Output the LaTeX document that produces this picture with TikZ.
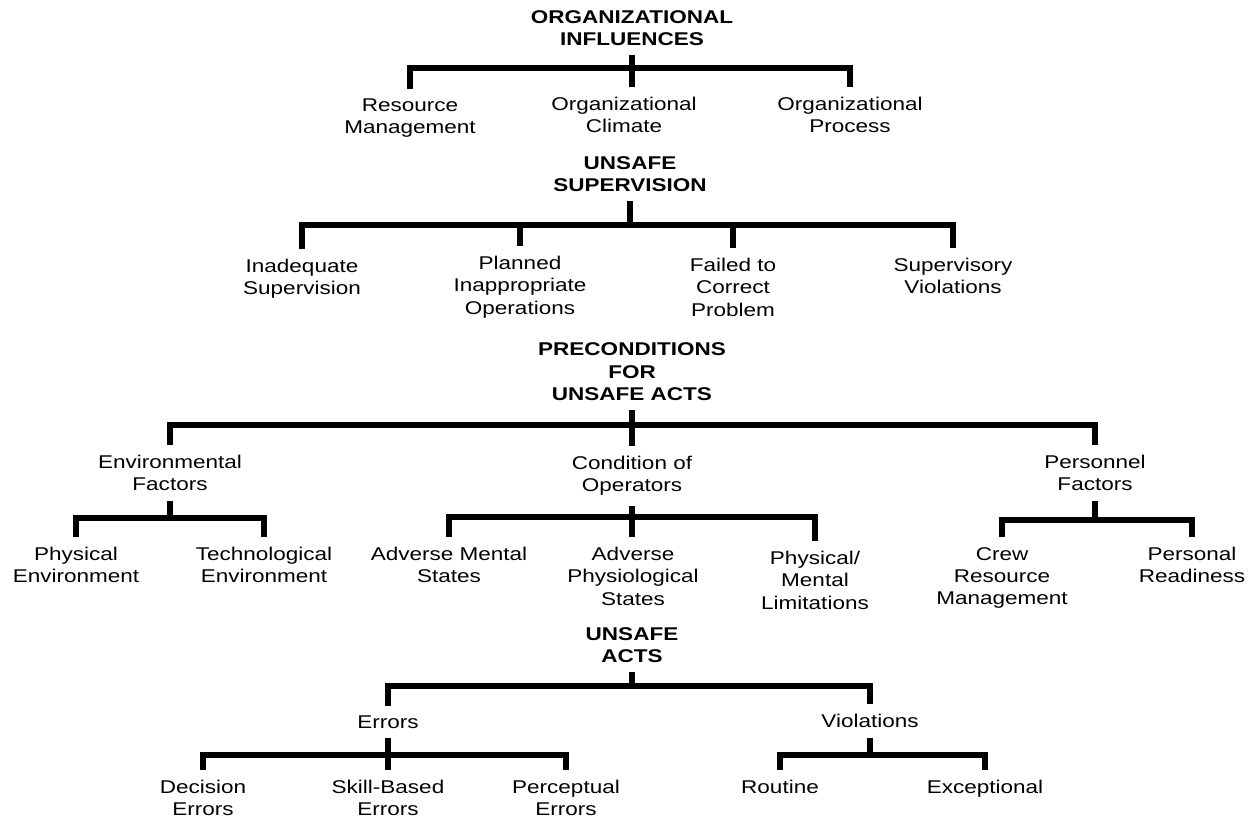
\documentclass[tikz,border=0pt]{standalone}
\usepackage{fontspec}
\setmainfont{Liberation Sans}[FakeStretch=1.22]
\usetikzlibrary{positioning}
\tikzset{
  head/.style={font=\fontsize{10.5}{12.75}\selectfont\bfseries, align=center, inner sep=5pt},
  item/.style={font=\fontsize{10.5}{12.75}\selectfont, align=center, inner sep=5.5pt},
  link/.style={line width=3.2pt, line join=miter, line cap=butt}
}

\begin{document}
\begin{tikzpicture}[x=0.02cm, y=-0.02cm]
    \useasboundingbox (0,0) rectangle (1250,818);

    % organizational influences
    \node[head] (oi) at (632,28) {ORGANIZATIONAL\\INFLUENCES};
    \node[item] (rm) at (410,118) {Resource\\Management};
    \node[item] (oc) at (624,115) {Organizational\\Climate};
    \node[item] (op) at (850,115) {Organizational\\Process};
    \coordinate (b1) at (632,68);
    \draw[link] (oi.south) -- (b1) -- (b1 |- oc.north);
    \draw[link] (rm.north) -- (rm.north |- b1) -- (op.north |- b1) -- (op.north);

    % unsafe supervision
    \node[head] (us) at (630,174) {UNSAFE\\SUPERVISION};
    \node[item] (is) at (302,279) {Inadequate\\Supervision};
    \node[item] (pio) at (520,287) {Planned\\Inappropriate\\Operations};
    \node[item] (fcp) at (733,287) {Failed to\\Correct\\Problem};
    \node[item] (sv) at (953,276) {Supervisory\\Violations};
    \coordinate (b2) at (630,225);
    \draw[link] (us.south) -- (b2);
    \draw[link] (is.north) -- (is.north |- b2) -- (sv.north |- b2) -- (sv.north);
    \draw[link] (pio.north |- b2) -- (pio.north);
    \draw[link] (fcp.north |- b2) -- (fcp.north);

    % preconditions for unsafe acts
    \node[head] (pre) at (632,372) {PRECONDITIONS\\FOR\\UNSAFE ACTS};
    \node[item] (ef) at (170,473) {Environmental\\Factors};
    \node[item] (co) at (632,476) {Condition of\\Operators};
    \node[item] (pf) at (1095,473) {Personnel\\Factors};
    \coordinate (b3) at (632,425);
    \draw[link] (pre.south) -- (b3) -- (b3 |- co.north);
    \draw[link] (ef.north) -- (ef.north |- b3) -- (pf.north |- b3) -- (pf.north);

    \node[item] (pe) at (76,565) {Physical\\Environment};
    \node[item] (te) at (264,565) {Technological\\Environment};
    \coordinate (b4) at (170,518);
    \draw[link] (ef.south) -- (b4);
    \draw[link] (pe.north) -- (pe.north |- b4) -- (te.north |- b4) -- (te.north);

    \node[item] (ams) at (449,565) {Adverse Mental\\States};
    \node[item] (aps) at (633,576) {Adverse\\Physiological\\States};
    \node[item] (pml) at (815,580) {Physical/\\Mental\\Limitations};
    \coordinate (b5) at (632,517);
    \draw[link] (co.south) -- (b5) -- (b5 |- aps.north);
    \draw[link] (ams.north) -- (ams.north |- b5) -- (pml.north |- b5) -- (pml.north);

    \node[item] (crm) at (1002,578) {Crew\\Resource\\Management};
    \node[item] (prd) at (1192,565) {Personal\\Readiness};
    \coordinate (b6) at (1095,520);
    \draw[link] (pf.south) -- (b6);
    \draw[link] (crm.north) -- (crm.north |- b6) -- (prd.north |- b6) -- (prd.north);

    % unsafe acts
    \node[head] (ua) at (632,645) {UNSAFE\\ACTS};
    \node[item] (err) at (388,722) {Errors};
    \node[item] (vio) at (870,721) {Violations};
    \coordinate (b7) at (632,686);
    \draw[link] (ua.south) -- (b7);
    \draw[link] (err.north) -- (err.north |- b7) -- (vio.north |- b7) -- (vio.north);

    \node[item] (de) at (203,798) {Decision\\Errors};
    \node[item] (sbe) at (388,798) {Skill-Based\\Errors};
    \node[item] (pce) at (566,798) {Perceptual\\Errors};
    \coordinate (b8) at (388,755);
    \draw[link] (err.south) -- (b8) -- (b8 |- sbe.north);
    \draw[link] (de.north) -- (de.north |- b8) -- (pce.north |- b8) -- (pce.north);

    \node[item] (rou) at (780,787) {Routine};
    \node[item] (exc) at (985,789) {Exceptional};
    \coordinate (b9) at (870,755);
    \draw[link] (vio.south) -- (b9);
    \draw[link] (rou.north) -- (rou.north |- b9) -- (exc.north |- b9) -- (exc.north);
\end{tikzpicture}
\end{document}
